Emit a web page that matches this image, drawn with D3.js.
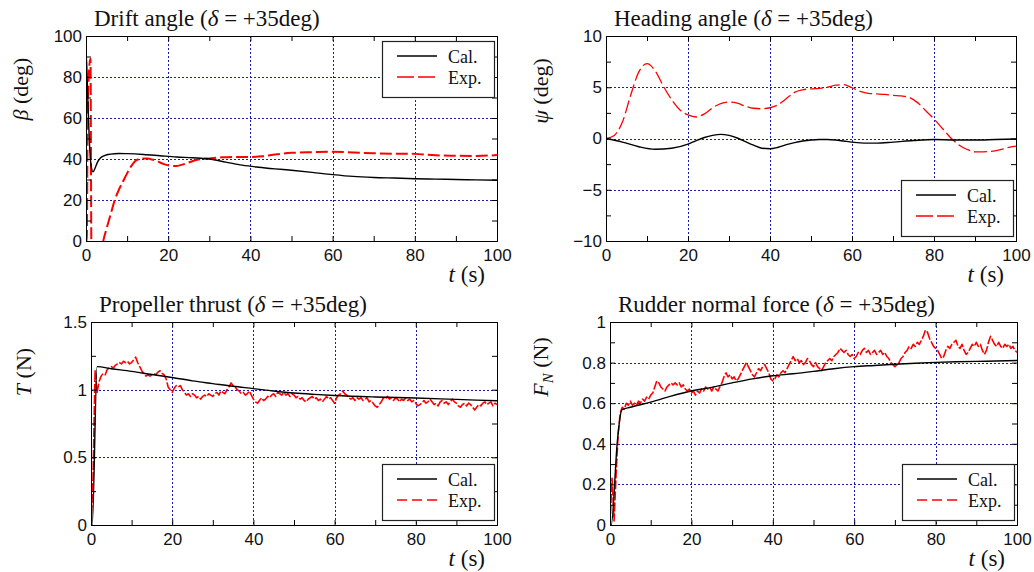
<!DOCTYPE html>
<html><head><meta charset="utf-8">
<script src="https://cdn.jsdelivr.net/npm/d3@7"></script>
<style>
body{margin:0;background:#fff;}
svg{display:block;}
</style></head><body>
<svg id="c" width="1034" height="572"></svg>
<script>
// ---------------- DATA ----------------
const tickX = [0, 20, 40, 60, 80, 100];
const minorX = [10, 30, 50, 70, 90];

// Drift angle
const betaCalT = [0,0.1,0.3,0.6,1.0,1.3,1.7,2.2,2.8,3.5,4.5,6,8,10,14,18,22,26,30,34,38,42,46,50,55,60,65,70,75,80,85,90,95,100];
const betaCal  = [0,90,78,60,42,36,33.7,35.5,38.5,40.5,41.7,42.4,42.7,42.6,42.2,41.6,41.0,40.6,40.0,38.5,37.0,36.0,35.2,34.5,33.5,32.4,31.5,31.0,30.7,30.4,30.2,30.0,29.8,29.6];
const betaExpT = [0,0.2,0.4,0.8,1.1,1.3,1.6,2.5,3.5,4.2,5,6,7,8,9,10,11,12,13,14,15,16,17,18,19,20,21,22,23,24,25,26,27,28,30,33,36,40,43,46,50,55,60,65,70,75,80,85,90,95,100];
const betaExp  = [0,0,60,85,89,0,-15,-20,-8,0,6,13,20,25,29,33,36.5,39,40,40.3,40.2,39.8,39.2,38.3,37.5,36.9,36.6,36.6,37,37.6,38.3,39,39.6,40,40.3,40.8,41,41,41.3,42.2,43,43.3,43.5,43.2,42.8,42.6,42.5,41.8,41.6,41.5,41.9];

// Heading angle
const headCalT = [0,4,8,12,16,20,22,24,26,28,30,32,34,36,38,40,42,44,46,48,50,52,54,56,58,60,63,66,70,75,80,85,90,95,100];
const headCal  = [0,-0.35,-0.8,-1.05,-0.95,-0.55,-0.2,0.1,0.3,0.4,0.3,0.05,-0.3,-0.65,-0.95,-1.0,-0.85,-0.6,-0.4,-0.25,-0.15,-0.1,-0.1,-0.15,-0.25,-0.35,-0.45,-0.45,-0.35,-0.2,-0.1,-0.15,-0.15,-0.1,-0.05];
const headExpT = [0,2,4,6,8,10,12,14,16,18,20,22,24,26,28,30,32,34,36,38,40,42,44,46,48,50,52,54,56,58,60,62,64,66,68,70,72,74,76,78,80,82,84,86,88,90,92,94,96,98,100];
const headExp  = [0,0.3,1.6,4.2,6.5,7.3,6.6,5.1,3.8,2.8,2.3,2.1,2.4,3.0,3.4,3.55,3.45,3.15,2.95,2.9,3.0,3.3,3.9,4.5,4.75,4.85,4.9,5.0,5.2,5.25,4.95,4.6,4.4,4.35,4.3,4.2,4.15,4.0,3.5,2.7,1.9,1.0,0.1,-0.6,-1.05,-1.3,-1.3,-1.25,-1.1,-0.9,-0.75];

// Propeller thrust
const thrCalT = [0,0.3,1.5,5,10,15,20,25,30,35,40,45,50,55,60,70,80,90,100];
const thrCal  = [0,0,1.17,1.155,1.135,1.112,1.09,1.065,1.045,1.025,1.008,0.99,0.975,0.965,0.957,0.946,0.938,0.928,0.918];
// experiment sampled every 0.5 s (0 ... 100 s)
const thrExp = [
 0,0.35,1.14,0.98,1.06,1.1,1.12,1.11,1.15,1.16, 1.17,1.16,1.18,1.19,1.2,1.19,1.21,1.2,1.21,1.19,
 1.2,1.22,1.24,1.2,1.17,1.14,1.12,1.1,1.11,1.1, 1.11,1.12,1.11,1.13,1.14,1.12,1.11,1.08,1.02,1.0,
 0.98,1.01,1.03,1.02,1.03,1.0,0.98,0.96,0.97,0.95, 0.97,0.96,0.94,0.95,0.93,0.95,0.96,0.95,0.97,0.96,
 0.95,0.97,0.98,0.96,0.99,0.98,0.97,1.0,1.02,1.05, 1.03,1.02,1.0,0.99,0.97,0.98,0.96,0.97,0.99,0.96,
 0.93,0.91,0.9,0.92,0.94,0.92,0.93,0.95,0.94,0.96, 0.97,0.95,0.98,0.97,0.96,0.98,0.96,0.97,0.95,0.97,
 0.96,0.94,0.95,0.93,0.94,0.92,0.91,0.93,0.94,0.95, 0.93,0.94,0.92,0.93,0.91,0.93,0.95,0.93,0.94,0.92,
 0.9,0.94,0.96,0.97,0.99,0.97,0.96,0.94,0.93,0.94, 0.92,0.94,0.93,0.94,0.92,0.93,0.94,0.91,0.92,0.9,
 0.88,0.87,0.89,0.91,0.94,0.93,0.95,0.93,0.94,0.92, 0.94,0.93,0.91,0.93,0.92,0.94,0.92,0.93,0.91,0.92,
 0.9,0.88,0.89,0.9,0.92,0.9,0.91,0.93,0.91,0.89, 0.9,0.88,0.91,0.92,0.9,0.91,0.89,0.91,0.93,0.91,
 0.9,0.88,0.87,0.89,0.9,0.88,0.9,0.89,0.87,0.85, 0.87,0.89,0.88,0.9,0.91,0.89,0.9,0.91,0.88,0.9,
 0.89];

// Rudder normal force
const fnCalT = [0,0.3,1.8,2.9,5,10,15,20,25,30,35,40,45,50,55,60,65,70,75,80,85,90,95,100];
const fnCal  = [0,0,0.41,0.567,0.58,0.605,0.635,0.66,0.678,0.7,0.72,0.735,0.745,0.757,0.77,0.78,0.786,0.792,0.797,0.801,0.804,0.806,0.808,0.81];
const fnExp = [
 0,0.23,0.02,0.25,0.45,0.55,0.58,0.57,0.6,0.59, 0.61,0.59,0.6,0.59,0.61,0.6,0.62,0.61,0.63,0.62,
 0.64,0.65,0.68,0.71,0.7,0.68,0.67,0.66,0.68,0.69, 0.7,0.69,0.7,0.69,0.7,0.68,0.69,0.67,0.66,0.67,
 0.65,0.66,0.64,0.66,0.65,0.67,0.66,0.68,0.67,0.68, 0.66,0.68,0.67,0.66,0.68,0.7,0.73,0.75,0.73,0.74,
 0.72,0.73,0.71,0.72,0.74,0.76,0.78,0.8,0.78,0.76, 0.74,0.73,0.75,0.77,0.76,0.78,0.79,0.77,0.75,0.72,
 0.71,0.72,0.74,0.73,0.75,0.76,0.75,0.77,0.79,0.81, 0.83,0.81,0.82,0.8,0.81,0.79,0.8,0.82,0.81,0.79,
 0.78,0.8,0.78,0.77,0.76,0.78,0.8,0.81,0.82,0.81, 0.83,0.84,0.85,0.87,0.86,0.85,0.86,0.84,0.83,0.84,
 0.82,0.83,0.85,0.84,0.86,0.87,0.85,0.86,0.84,0.85, 0.86,0.84,0.85,0.86,0.84,0.85,0.83,0.82,0.8,0.79,
 0.78,0.79,0.8,0.82,0.83,0.85,0.86,0.88,0.87,0.89, 0.88,0.9,0.89,0.91,0.93,0.96,0.95,0.92,0.9,0.88,
 0.87,0.86,0.84,0.82,0.83,0.86,0.88,0.87,0.89,0.9, 0.91,0.88,0.87,0.89,0.86,0.84,0.85,0.87,0.89,0.88,
 0.9,0.88,0.89,0.86,0.84,0.86,0.9,0.93,0.91,0.89, 0.88,0.9,0.88,0.87,0.89,0.88,0.89,0.87,0.88,0.86,
 0.85];
const halfSecT = d3.range(thrExp.length).map(i => i * 0.5);

// ---------------- LAYOUT ----------------
const svg = d3.select('#c');
const defs = svg.append('defs');
const SERIF = "'Liberation Serif','Times New Roman',serif";
const SANS = "'Liberation Sans',Arial,sans-serif";

const panels = [
  { box:{l:86,r:497,t:36,b:241}, yDomain:[0,100], yMajor:[0,20,40,60,80,100], yMinor:[10,30,50,70,90],
    title:[["Drift angle (",false],["δ",true],[" = +35deg)",false]],
    ylab:[["β",true],[" (deg)",false]], ylabPos:[28,89], legend:"top",
    cal:[betaCalT,betaCal], exp:[betaExpT,betaExp], expW:2.0, expDash:"12,4", smooth:true },
  { box:{l:606,r:1016,t:36,b:241}, yDomain:[-10,10], yMajor:[-10,-5,0,5,10], yMinor:[-7.5,-2.5,2.5,7.5],
    title:[["Heading angle (",false],["δ",true],[" = +35deg)",false]],
    ylab:[["ψ",true],[" (deg)",false]], ylabPos:[548,91], legend:"bottom",
    cal:[headCalT,headCal], exp:[headExpT,headExp], expW:1.3, expDash:"13,4", smooth:true },
  { box:{l:91,r:497,t:322,b:525}, yDomain:[0,1.5], yMajor:[0,0.5,1,1.5], yMinor:[0.25,0.75,1.25],
    title:[["Propeller thrust (",false],["δ",true],[" = +35deg)",false]],
    ylab:[["T",true],[" (N)",false]], ylabPos:[31,372], legend:"bottom",
    cal:[thrCalT,thrCal], exp:[halfSecT,thrExp], expW:1.6, expDash:"9,2", smooth:false },
  { box:{l:610,r:1017,t:322,b:525}, yDomain:[0,1], yMajor:[0,0.2,0.4,0.6,0.8,1], yMinor:[0.1,0.3,0.5,0.7,0.9],
    title:[["Rudder normal force (",false],["δ",true],[" = +35deg)",false]],
    ylab:[["F",true],["N",true,"sub"],[" (N)",false]], ylabPos:[548,367], legend:"bottom",
    cal:[fnCalT,fnCal], exp:[halfSecT,fnExp], expW:1.6, expDash:"9,2", smooth:false }
];

const fmt = d3.format("~g");

panels.forEach((p, i) => {
  const B = p.box;
  const x = d3.scaleLinear().domain([0, 100]).range([B.l, B.r]);
  const y = d3.scaleLinear().domain(p.yDomain).range([B.b, B.t]);
  const g = svg.append('g');

  // grid
  const grid = g.append('g').attr('stroke', '#1a1ab8').attr('stroke-width', 1).attr('stroke-dasharray', '2,2');
  tickX.slice(1, -1).forEach(v => grid.append('line')
    .attr('x1', Math.round(x(v)) + 0.5).attr('x2', Math.round(x(v)) + 0.5).attr('y1', B.t).attr('y2', B.b));
  p.yMajor.slice(1, -1).forEach(v => grid.append('line')
    .attr('y1', Math.round(y(v)) + 0.5).attr('y2', Math.round(y(v)) + 0.5).attr('x1', B.l).attr('x2', B.r));

  // clip
  defs.append('clipPath').attr('id', 'clip' + i).append('rect')
    .attr('x', B.l).attr('y', B.t).attr('width', B.r - B.l).attr('height', B.b - B.t);
  const plot = g.append('g').attr('clip-path', `url(#clip${i})`);

  const mkLine = (smooth) => d3.line().x(d => x(d[0])).y(d => y(d[1]))
    .curve(smooth ? d3.curveMonotoneX : d3.curveLinear);

  const expPts = p.exp[0].map((t, k) => [t, p.exp[1][k]]);
  plot.append('path').datum(expPts).attr('d', mkLine(p.smooth))
    .attr('fill', 'none').attr('stroke', '#ff0000').attr('stroke-width', p.expW)
    .attr('stroke-dasharray', p.expDash).attr('stroke-linejoin', 'round');
  const calPts = p.cal[0].map((t, k) => [t, p.cal[1][k]]);
  plot.append('path').datum(calPts).attr('d', mkLine(true))
    .attr('fill', 'none').attr('stroke', '#000').attr('stroke-width', 1.4);

  // axes
  const TL = 5;
  const styleAxis = sel => {
    sel.select('.domain').remove();
    sel.selectAll('line').attr('stroke', '#000');
    sel.selectAll('text').attr('font-family', SANS).attr('font-size', 17).attr('fill', '#111');
  };
  g.append('g').attr('transform', `translate(0,${B.b})`)
    .call(d3.axisBottom(x).tickValues(tickX).tickFormat(fmt).tickSizeInner(-TL).tickSizeOuter(0).tickPadding(7.5)).call(styleAxis);
  g.append('g').attr('transform', `translate(0,${B.b})`)
    .call(d3.axisBottom(x).tickValues(minorX).tickFormat('').tickSizeInner(-TL).tickSizeOuter(0)).call(styleAxis);
  g.append('g').attr('transform', `translate(0,${B.t})`)
    .call(d3.axisTop(x).tickValues(tickX.concat(minorX)).tickFormat('').tickSizeInner(-TL).tickSizeOuter(0)).call(styleAxis);
  g.append('g').attr('transform', `translate(${B.l},0)`)
    .call(d3.axisLeft(y).tickValues(p.yMajor).tickFormat(fmt).tickSizeInner(-TL).tickSizeOuter(0).tickPadding(4)).call(styleAxis);
  g.append('g').attr('transform', `translate(${B.l},0)`)
    .call(d3.axisLeft(y).tickValues(p.yMinor).tickFormat('').tickSizeInner(-TL).tickSizeOuter(0)).call(styleAxis);
  g.append('g').attr('transform', `translate(${B.r},0)`)
    .call(d3.axisRight(y).tickValues(p.yMajor.concat(p.yMinor)).tickFormat('').tickSizeInner(-TL).tickSizeOuter(0)).call(styleAxis);

  // frame
  g.append('rect').attr('x', B.l + 0.5).attr('y', B.t + 0.5).attr('width', B.r - B.l).attr('height', B.b - B.t)
    .attr('fill', 'none').attr('stroke', '#000').attr('stroke-width', 1);

  // title
  const tt = g.append('text').attr('x', B.l + 8).attr('y', B.t - 10)
    .attr('font-family', SERIF).attr('font-size', 23).attr('fill', '#111');
  p.title.forEach(([s, it]) => tt.append('tspan').text(s).attr('font-style', it ? 'italic' : 'normal'));

  // x label
  const xl = g.append('text').attr('x', B.r - 12).attr('y', B.b + 41).attr('text-anchor', 'end')
    .attr('font-family', SERIF).attr('font-size', 23).attr('fill', '#111');
  xl.append('tspan').text('t').attr('font-style', 'italic');
  xl.append('tspan').text(' (s)');

  // y label
  const yl = g.append('text').attr('transform', `translate(${p.ylabPos[0]},${p.ylabPos[1]}) rotate(-90)`)
    .attr('text-anchor', 'middle').attr('font-family', SERIF).attr('font-size', 22).attr('fill', '#111');
  p.ylab.forEach(([s, it, sub]) => {
    const ts = yl.append('tspan').text(s).attr('font-style', it ? 'italic' : 'normal');
    if (sub) ts.attr('font-size', 15).attr('dy', 5);
    else if (s.startsWith(' (') && p.ylab.some(q => q[2])) ts.attr('dy', -5);
  });

  // legend
  const lw = 112, lh = 56;
  const lx = B.r - 115, ly = p.legend === 'top' ? B.t + 5 : B.b - 61;
  const lg = g.append('g').attr('transform', `translate(${lx},${ly})`);
  lg.append('rect').attr('x', 0.5).attr('y', 0.5).attr('width', lw).attr('height', lh)
    .attr('fill', '#fff').attr('stroke', '#222').attr('stroke-width', 1.2);
  const rows = [["Cal.", '#000', null, 1.4], ["Exp.", '#ff0000', p.legend === 'top' || i === 1 ? "17,4" : "10,5", Math.min(p.expW, 1.5)]];
  rows.forEach(([lab, col, dash, w], k) => {
    const yy = 15 + k * 21;
    lg.append('line').attr('x1', 15).attr('x2', 55).attr('y1', yy).attr('y2', yy)
      .attr('stroke', col).attr('stroke-width', w).attr('stroke-dasharray', dash);
    lg.append('text').attr('x', 66).attr('y', yy + 7).attr('font-family', SERIF).attr('font-size', 18)
      .attr('fill', '#111').text(lab);
  });
});
</script></body></html>
